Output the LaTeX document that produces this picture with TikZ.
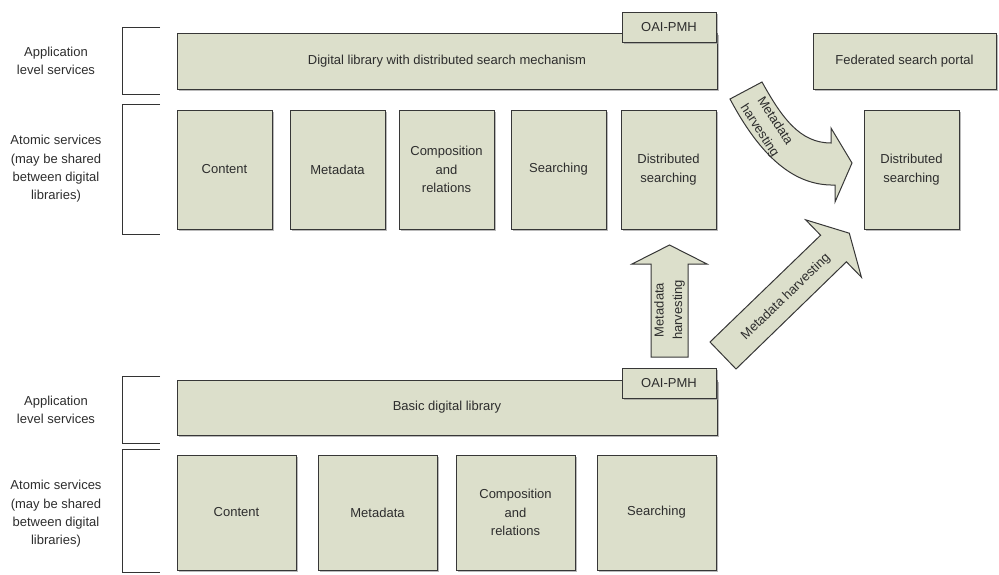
\documentclass[tikz,border=0pt]{standalone}
\usepackage{fontspec}
\setmainfont{Liberation Sans}
\usetikzlibrary{positioning,shadows}

\definecolor{boxfill}{RGB}{220,223,203}
\definecolor{boxline}{RGB}{55,55,55}
\definecolor{labeltext}{RGB}{45,45,45}

\begin{document}
\begin{tikzpicture}[x=1pt,y=-1pt,
    font=\fontsize{13}{18.3}\selectfont,
    every node/.style={text=labeltext},
    svc/.style={draw=boxline,fill=boxfill,line width=1pt,inner sep=0pt,outer sep=0pt,align=center,
      drop shadow={shadow xshift=1.5pt,shadow yshift=-1.5pt,fill=black!45,opacity=.6}},
    atomT/.style={svc,minimum width=95pt,minimum height=119pt},
    atomB/.style={svc,minimum width=119pt,minimum height=115pt},
    appbox/.style={svc,minimum width=540pt,minimum height=56pt},
    tab/.style={svc,minimum width=94pt,minimum height=30pt},
    layer/.style={align=center},
    bracket/.style={draw=black!80,line width=1pt},
    harvest/.style={draw=boxline,fill=boxfill,line width=1pt,line join=miter}]
  \useasboundingbox (0,0) rectangle (999,574);

  % upper library
  \node[layer] (appT)   at (56,61)  {Application\\level services};
  \node[layer] (atomLT) at (56,169) {Atomic services\\(may be shared\\between digital\\libraries)};
  \draw[bracket] (160,27) -- (122,27) -- (122,94) -- (160,94);
  \draw[bracket] (160,104) -- (122,104) -- (122,234) -- (160,234);

  \node[appbox] (libT) at (447,61) {Digital library with distributed search mechanism};
  \node[tab]    (oaiT) at (669,27) {OAI-PMH};
  \node[appbox,minimum width=183pt] (portal) at (904.5,61) {Federated search portal};

  \node[atomT] (contT)   at (224.5,169.5)        {Content};
  \node[atomT] (metaT)   [right=18pt of contT]   {Metadata};
  \node[atomT] (compT)   [right=14pt of metaT]   {Composition\\and\\relations};
  \node[atomT] (searchT) [right=17pt of compT]   {Searching};
  \node[atomT] (distT)   [right=15pt of searchT] {Distributed\\searching};
  \node[atomT] (distF)   at (911.5,169.5)        {Distributed\\searching};

  % lower library
  \node[layer] (appB)   at (56,410) {Application\\level services};
  \node[layer] (atomLB) at (56,514) {Atomic services\\(may be shared\\between digital\\libraries)};
  \draw[bracket] (160,376) -- (122,376) -- (122,443) -- (160,443);
  \draw[bracket] (160,449) -- (122,449) -- (122,572) -- (160,572);

  \node[appbox,minimum height=55pt] (libB) at (447,407.5) {Basic digital library};
  \node[tab] (oaiB) at (669,383) {OAI-PMH};

  \node[atomB] (contB)   at (236.5,512.5)      {Content};
  \node[atomB] (metaB)   [right=22pt of contB] {Metadata};
  \node[atomB] (compB)   [right=19pt of metaB] {Composition\\and\\relations};
  \node[atomB] (searchB) [right=22pt of compB] {Searching};

  % harvesting arrows
  \draw[harvest] (651,357) -- (651,264) -- (632,264) -- (669.5,245) -- (707,264)
    -- (688,264) -- (688,357) -- cycle;
  \node[rotate=90,align=center] (upLbl) at (669.5,310) {Metadata\\harvesting};

  \draw[harvest] (710,342) -- (820.6,235.2) -- (805.6,219.8) -- (849.3,233.2)
    -- (861.4,277.2) -- (846.4,261.8) -- (736,369) -- cycle;
  \node[rotate=44] (diagLbl) at (786,297) {Metadata harvesting};

  \draw[harvest] (730,99) -- (762,82) .. controls (782,118) and (800,143) .. (831,143)
    -- (831,128) -- (852,163) -- (835,202) -- (835,185)
    .. controls (800,186) and (765,165) .. (730,99) -- cycle;
  \node[rotate=-57,align=center] (curveLbl) at (767,126) {Metadata\\harvesting};
\end{tikzpicture}
\end{document}
